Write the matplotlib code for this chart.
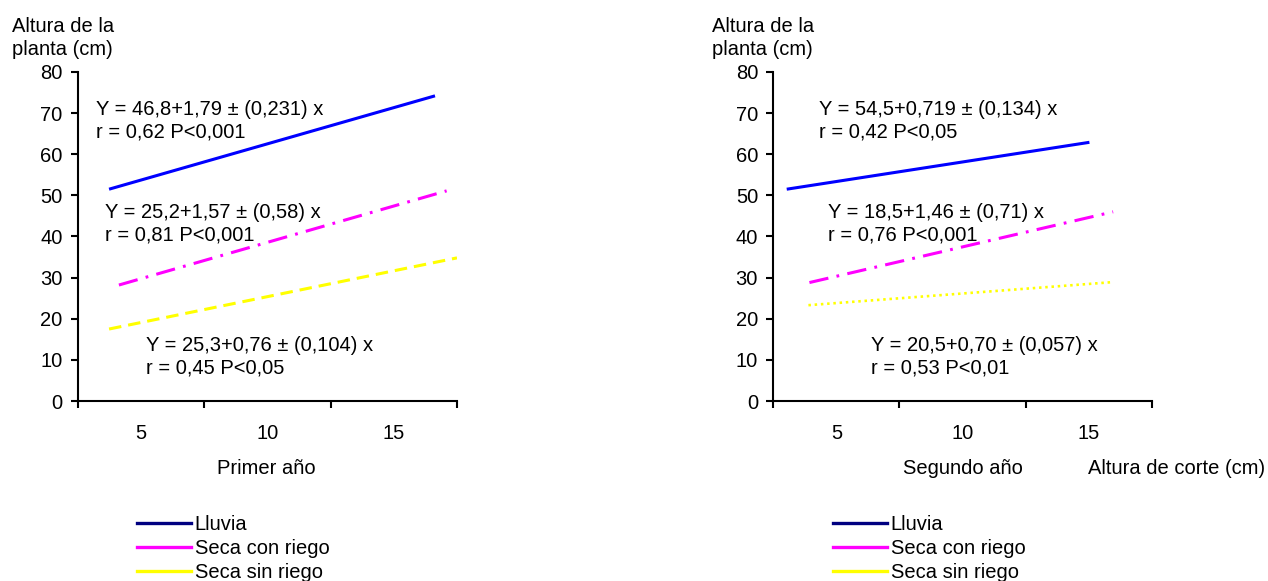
import matplotlib
matplotlib.use('Agg')
import matplotlib.pyplot as plt
from matplotlib.lines import Line2D

plt.rcParams['font.family'] = ['Liberation Sans', 'DejaVu Sans']
plt.rcParams['lines.scale_dashes'] = False

FS = 14.5

# regression lines, end points read as (cutting height, plant height)
series_names = ['Lluvia', 'Seca con riego', 'Seca sin riego']
series_colors = ['#0000FF', '#FF00FF', '#FFFF00']
legend_colors = ['#000080', '#FF00FF', '#FFFF00']

year1_x = [[3.73, 16.63], [4.12, 17.09], [3.73, 17.5]]
year1_y = [[51.5, 74.2], [28.2, 51.1], [17.5, 34.8]]
year1_eq = [
    'Y = 46,8+1,79 ± (0,231) x\nr = 0,62 P<0,001',
    'Y = 25,2+1,57 ± (0,58) x\nr = 0,81 P<0,001',
    'Y = 25,3+0,76 ± (0,104) x\nr = 0,45 P<0,05',
]

year2_x = [[3.03, 15.03], [3.93, 15.97], [3.89, 15.94]]
year2_y = [[51.5, 62.9], [28.8, 46.0], [23.3, 28.9]]
year2_eq = [
    'Y = 54,5+0,719 ± (0,134) x\nr = 0,42 P<0,05',
    'Y = 18,5+1,46 ± (0,71) x\nr = 0,76 P<0,001',
    'Y = 20,5+0,70 ± (0,057) x\nr = 0,53 P<0,01',
]

x_labels = [5, 10, 15]
y_ticks = list(range(0, 81, 10))

fig = plt.figure(figsize=(12.68, 5.81), dpi=100)
ax1 = fig.add_axes([0.0615, 0.3098, 0.2989, 0.5663])
ax2 = fig.add_axes([0.6099, 0.3098, 0.2984, 0.5663])


def draw_panel(ax, xs, ys, eqs, eq_pos, year_dotted):
    styles = [
        dict(linestyle='-'),
        dict(dashes=(14, 6, 2, 6)),
        dict(dashes=(1.8, 2.7), lw=1.9) if year_dotted else dict(dashes=(9, 5)),
    ]
    for x, y, c, st in zip(xs, ys, series_colors, styles):
        kw = dict(color=c, lw=2.2, solid_capstyle='butt', dash_capstyle='butt')
        kw.update(st)
        ax.plot(x, y, **kw)

    for (tx, ty), s in zip(eq_pos, eqs):
        ax.text(tx, ty, s, fontsize=FS, ha='left', va='center', linespacing=1.25)

    ax.set_xlim(2.5, 17.5)
    ax.set_ylim(0, 80)
    ax.set_xticks([2.5, 7.5, 12.5, 17.5])
    ax.set_xticklabels([])
    ax.set_xticks(x_labels, minor=True)
    ax.set_xticklabels([str(v) for v in x_labels], minor=True, fontsize=FS)
    ax.tick_params(axis='x', which='major', direction='out', length=5, width=1.5)
    ax.tick_params(axis='x', which='minor', length=0, pad=16.5)
    ax.set_yticks(y_ticks)
    ax.set_yticklabels([str(v) for v in y_ticks], fontsize=FS)
    ax.tick_params(axis='y', direction='out', length=5, width=1.5, pad=6)
    for side in ['top', 'right']:
        ax.spines[side].set_visible(False)
    for side in ['left', 'bottom']:
        ax.spines[side].set_linewidth(1.5)


draw_panel(ax1, year1_x, year1_y, year1_eq,
           [(3.21, 68.1), (3.57, 43.1), (5.2, 10.7)], False)
draw_panel(ax2, year2_x, year2_y, year2_eq,
           [(4.3, 68.1), (4.65, 43.1), (6.38, 10.7)], True)

# axis titles
for x0 in [11.7 / 1268, 711.7 / 1268]:
    fig.text(x0, 1 - 38 / 581, 'Altura de la\nplanta (cm)', fontsize=FS,
             ha='left', va='center', linespacing=1.25)
fig.text(266.7 / 1268, 1 - 468.5 / 581, 'Primer año', fontsize=FS, ha='center', va='center')
fig.text(962.5 / 1268, 1 - 468.5 / 581, 'Segundo año', fontsize=FS, ha='center', va='center')
fig.text(1177 / 1268, 1 - 468.5 / 581, 'Altura de corte (cm)', fontsize=FS, ha='center', va='center')

# legends below each panel
handles = [Line2D([], [], color=c, lw=2.4) for c in legend_colors]
for x0 in [136.7 / 1268, 832.7 / 1268]:
    fig.legend(handles, series_names, loc='upper left', bbox_to_anchor=(x0, 1 - 515 / 581),
               frameon=False, fontsize=FS, handlelength=2.68, handletextpad=0.2,
               labelspacing=0.25, borderpad=0, borderaxespad=0)

fig.savefig('out.png', dpi=100)
